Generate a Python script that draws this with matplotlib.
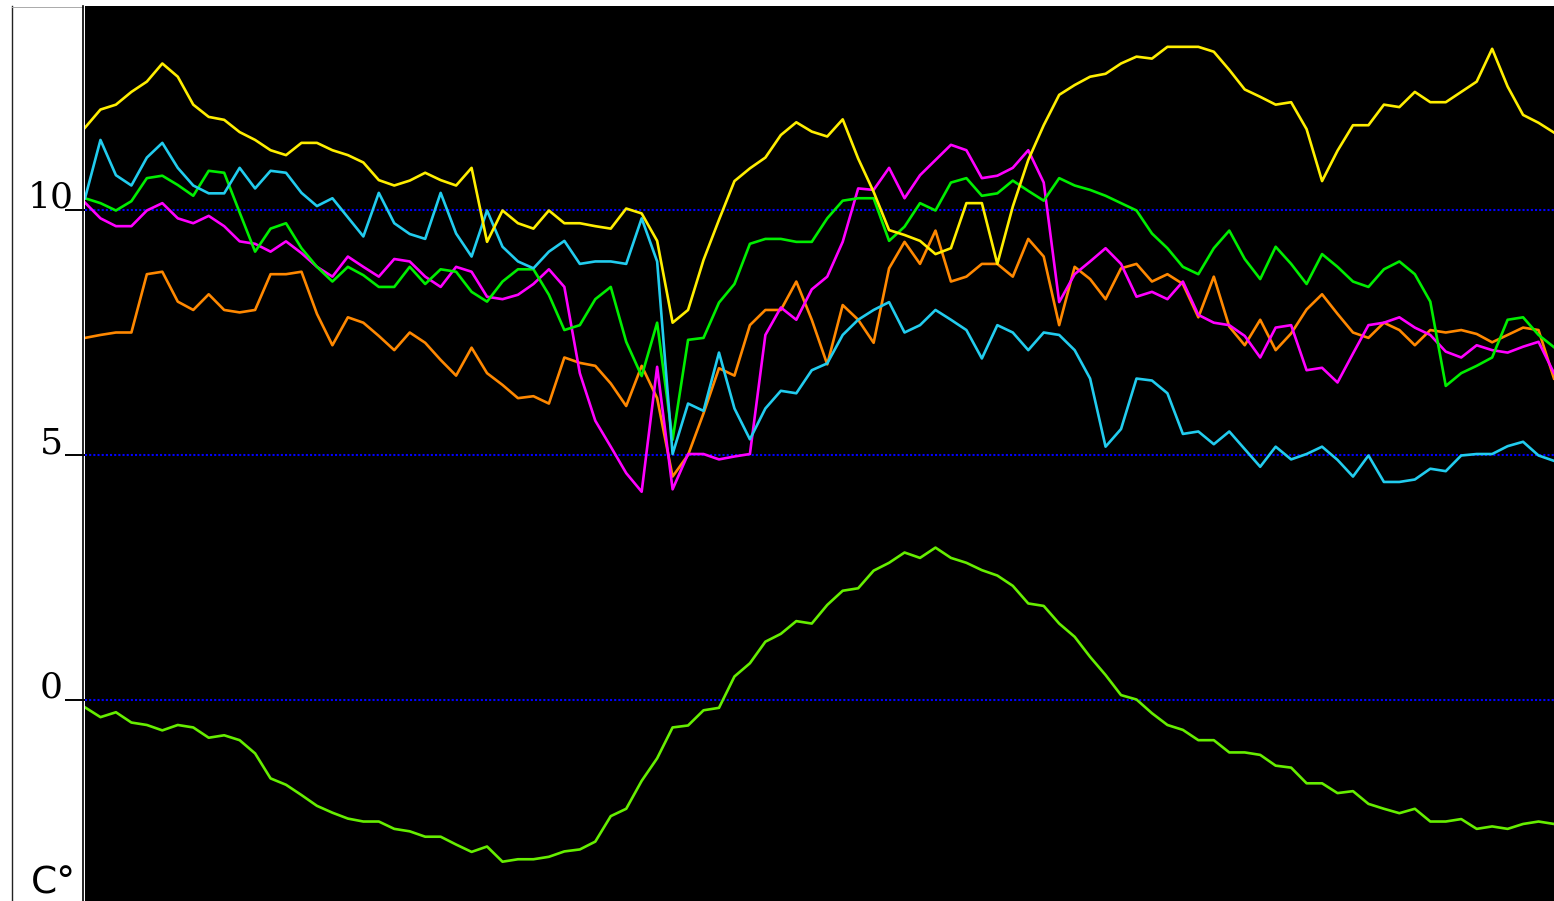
import numpy as np
import matplotlib
matplotlib.use("Agg")
import matplotlib.pyplot as plt
from matplotlib.lines import Line2D
from matplotlib import transforms

# values, 96 samples each
yellow = [11.68, 12.05, 12.15, 12.41, 12.62, 12.99, 12.72, 12.15, 11.90, 11.84,
          11.59, 11.43, 11.22, 11.12, 11.37, 11.37, 11.22, 11.12, 10.97, 10.61,
          10.50, 10.60, 10.76, 10.61, 10.50, 10.86, 9.35, 9.99, 9.73, 9.62,
          9.99, 9.73, 9.73, 9.67, 9.62, 10.03, 9.93, 9.37, 7.70, 7.96,
          8.98, 9.80, 10.59, 10.85, 11.07, 11.53, 11.79, 11.60, 11.50, 11.85,
          11.05, 10.37, 9.59, 9.49, 9.37, 9.10, 9.22, 10.14, 10.14, 8.90,
          10.07, 11.02, 11.73, 12.35, 12.55, 12.72, 12.78, 12.99, 13.13, 13.09,
          13.33, 13.33, 13.33, 13.23, 12.86, 12.46, 12.31, 12.15, 12.20, 11.65,
          10.59, 11.21, 11.73, 11.73, 12.15, 12.10, 12.41, 12.20, 12.20, 12.41,
          12.62, 13.29, 12.52, 11.94, 11.78, 11.58]
cyan = [10.24, 11.43, 10.71, 10.50, 11.07, 11.37, 10.86, 10.50, 10.34, 10.34,
        10.86, 10.44, 10.80, 10.76, 10.35, 10.08, 10.24, 9.85, 9.46, 10.35,
        9.73, 9.51, 9.41, 10.35, 9.52, 9.05, 9.99, 9.25, 8.95, 8.81,
        9.15, 9.37, 8.90, 8.95, 8.95, 8.90, 9.83, 8.95, 5.02, 6.05,
        5.90, 7.09, 5.95, 5.32, 5.95, 6.31, 6.26, 6.73, 6.87, 7.45,
        7.76, 7.96, 8.12, 7.50, 7.65, 7.96, 7.76, 7.55, 6.97, 7.65,
        7.50, 7.14, 7.50, 7.45, 7.14, 6.56, 5.17, 5.53, 6.56, 6.52,
        6.26, 5.43, 5.48, 5.22, 5.48, 5.12, 4.76, 5.17, 4.91, 5.02,
        5.17, 4.90, 4.56, 4.99, 4.45, 4.45, 4.50, 4.72, 4.67, 4.99,
        5.02, 5.02, 5.18, 5.27, 4.99, 4.88]
green = [10.24, 10.14, 9.99, 10.18, 10.65, 10.70, 10.51, 10.29, 10.80, 10.76,
         9.95, 9.15, 9.62, 9.73, 9.22, 8.84, 8.54, 8.84, 8.67, 8.43,
         8.43, 8.84, 8.49, 8.79, 8.74, 8.33, 8.13, 8.54, 8.79, 8.79,
         8.27, 7.55, 7.65, 8.18, 8.43, 7.31, 6.61, 7.70, 5.31, 7.35,
         7.39, 8.11, 8.49, 9.31, 9.41, 9.41, 9.35, 9.35, 9.83, 10.19,
         10.24, 10.24, 9.37, 9.66, 10.14, 9.99, 10.56, 10.65, 10.29, 10.34,
         10.60, 10.39, 10.19, 10.65, 10.50, 10.41, 10.29, 10.14, 9.99, 9.52,
         9.22, 8.84, 8.69, 9.22, 9.58, 9.00, 8.59, 9.25, 8.90, 8.49,
         9.10, 8.84, 8.54, 8.43, 8.79, 8.95, 8.69, 8.13, 6.41, 6.67,
         6.82, 6.99, 7.76, 7.81, 7.45, 7.20]
magenta = [10.15, 9.83, 9.67, 9.67, 9.99, 10.14, 9.83, 9.73, 9.88, 9.67,
           9.36, 9.31, 9.15, 9.36, 9.12, 8.84, 8.64, 9.05, 8.84, 8.64,
           9.00, 8.95, 8.64, 8.43, 8.84, 8.74, 8.23, 8.18, 8.27, 8.49,
           8.79, 8.43, 6.67, 5.70, 5.17, 4.63, 4.25, 6.80, 4.30, 5.02,
           5.02, 4.91, 4.97, 5.02, 7.45, 8.01, 7.76, 8.38, 8.64, 9.35,
           10.44, 10.41, 10.86, 10.24, 10.71, 11.02, 11.33, 11.22, 10.65, 10.70,
           10.86, 11.22, 10.56, 8.12, 8.69, 8.95, 9.22, 8.90, 8.23, 8.33,
           8.18, 8.54, 7.86, 7.70, 7.65, 7.43, 6.99, 7.60, 7.65, 6.73,
           6.78, 6.48, 7.07, 7.65, 7.70, 7.81, 7.60, 7.45, 7.11, 6.99,
           7.24, 7.14, 7.09, 7.21, 7.31, 6.67]
orange = [7.39, 7.45, 7.50, 7.50, 8.69, 8.74, 8.13, 7.96, 8.28, 7.96,
          7.91, 7.96, 8.69, 8.69, 8.74, 7.88, 7.24, 7.81, 7.70, 7.43,
          7.14, 7.50, 7.29, 6.94, 6.62, 7.19, 6.67, 6.43, 6.16, 6.20,
          6.05, 6.99, 6.88, 6.82, 6.46, 6.00, 6.82, 6.16, 4.56, 5.00,
          5.85, 6.77, 6.62, 7.65, 7.96, 7.96, 8.54, 7.76, 6.85, 8.06,
          7.76, 7.29, 8.81, 9.35, 8.90, 9.58, 8.54, 8.64, 8.90, 8.90,
          8.64, 9.41, 9.05, 7.65, 8.84, 8.59, 8.18, 8.81, 8.90, 8.54,
          8.69, 8.49, 7.81, 8.64, 7.62, 7.24, 7.76, 7.14, 7.48, 7.97,
          8.28, 7.88, 7.50, 7.39, 7.70, 7.55, 7.24, 7.55, 7.50, 7.55,
          7.47, 7.30, 7.45, 7.60, 7.55, 6.56]
lime = [-0.15, -0.35, -0.25, -0.46, -0.51, -0.62, -0.51, -0.56, -0.77, -0.72,
        -0.82, -1.09, -1.60, -1.73, -1.94, -2.16, -2.30, -2.42, -2.48, -2.48,
        -2.63, -2.68, -2.79, -2.79, -2.95, -3.10, -2.99, -3.30, -3.25, -3.25,
        -3.20, -3.09, -3.05, -2.89, -2.37, -2.22, -1.65, -1.19, -0.56, -0.52,
        -0.21, -0.16, 0.48, 0.75, 1.19, 1.35, 1.61, 1.56, 1.94, 2.23,
        2.28, 2.64, 2.80, 3.01, 2.90, 3.11, 2.90, 2.80, 2.65, 2.54,
        2.33, 1.97, 1.92, 1.56, 1.29, 0.88, 0.51, 0.10, 0.01, -0.27,
        -0.51, -0.61, -0.82, -0.82, -1.07, -1.07, -1.12, -1.34, -1.38, -1.70,
        -1.70, -1.90, -1.86, -2.12, -2.22, -2.31, -2.22, -2.48, -2.48, -2.43,
        -2.63, -2.58, -2.63, -2.53, -2.48, -2.53]

ticks = [0, 5, 10]
tick_labels = ["0", "5", "10"]

W, H = 1554, 901
fig = plt.figure(figsize=(W / 100, H / 100), dpi=100)
fig.patch.set_facecolor("white")

# plot area: x 85..1554, y 6..901 (pixels)
ax = fig.add_axes([85 / W, 0, 1 - 85 / W, (H - 6) / H])
ax.set_facecolor("black")
for s in ax.spines.values():
    s.set_visible(False)

x = np.arange(len(yellow))
for ys in ticks:
    ax.axhline(ys, color="#0000ff", lw=1.5, dashes=(1, 1), zorder=1)

series = [(lime, "#66ee00"), (orange, "#ff8800"), (magenta, "#ff00ff"),
          (green, "#00ee00"), (cyan, "#22ccee"), (yellow, "#ffee00")]
for ys, c in series:
    ax.plot(x, ys, color=c, lw=1.9, zorder=2)

ax.set_xlim(0, len(yellow) - 1)
ax.set_ylim((700 - 901) / 49, (700 - 6) / 49)
ax.set_xticks([])
ax.set_yticks(ticks)
ax.set_yticklabels([])
ax.tick_params(axis="y", direction="out", length=14.4, width=1.4, color="black")

# tick labels sit just above the tick line, centred in the white margin
tr = transforms.blended_transform_factory(fig.transFigure, ax.transData)
tr = transforms.offset_copy(tr, fig=fig, x=0, y=2, units="dots")
for v, lab in zip(ticks, tick_labels):
    fig.text(51 / W, v, lab, transform=tr, ha="center", va="baseline",
             fontsize=26, family="DejaVu Serif", color="black")

# unit label at the bottom of the margin
fig.text(31 / W, 0, "C°", ha="left", va="baseline", fontsize=27,
         family="DejaVu Sans", color="black",
         transform=transforms.offset_copy(fig.transFigure, fig=fig, x=0, y=7, units="dots"))

# frame of the white margin
fig.add_artist(Line2D([11.5 / W, 11.5 / W], [0, (H - 6) / H], color="#222222", lw=1.0))
fig.add_artist(Line2D([11.5 / W, 83 / W], [(H - 6.5) / H, (H - 6.5) / H], color="#aaaaaa", lw=0.7))
fig.add_artist(Line2D([83 / W, 83 / W], [0, (H - 6) / H], color="black", lw=1.2))

fig.savefig("out.png", dpi=100, facecolor=fig.get_facecolor())
